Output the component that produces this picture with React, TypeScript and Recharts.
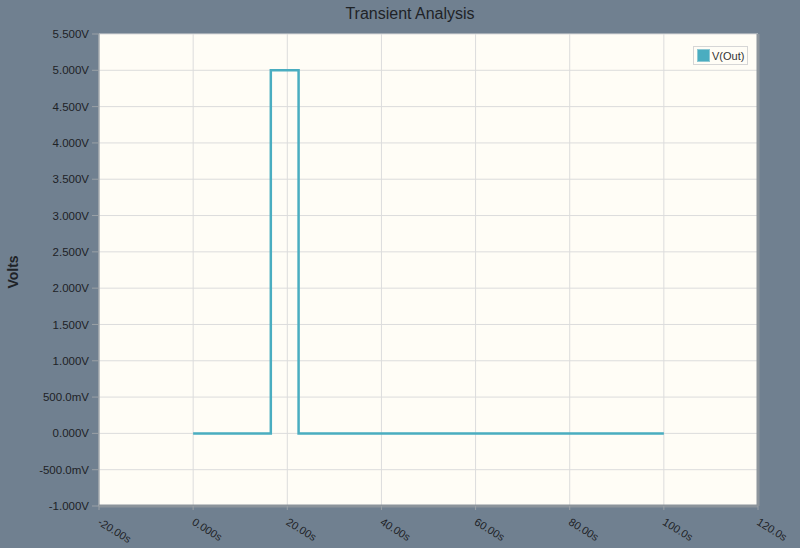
import React from "react";
import { LineChart, Line, XAxis, YAxis, CartesianGrid, ReferenceLine } from "recharts";

const timeValues = [0, 16.5, 16.5, 22.4, 22.4, 100];
const voltValues = [0, 0, 5, 5, 0, 0];
const xTicks = [-20, 0, 20, 40, 60, 80, 100, 120];
const xTickLabels = ["-20.00s", "0.000s", "20.00s", "40.00s", "60.00s", "80.00s", "100.0s", "120.0s"];
const yTicks = [-1, -0.5, 0, 0.5, 1, 1.5, 2, 2.5, 3, 3.5, 4, 4.5, 5, 5.5];
const yTickLabels = ["-1.000V", "-500.0mV", "0.000V", "500.0mV", "1.000V", "1.500V", "2.000V", "2.500V", "3.000V", "3.500V", "4.000V", "4.500V", "5.000V", "5.500V"];
const seriesName = "V(Out)";

const data = timeValues.map((t, i) => ({ t, v: voltValues[i] }));

const FONT = "'Liberation Sans', Arial, sans-serif";
const LINE_COLOR = "#4aadc0";

const XTick = (props: any) => {
  const { x, y, payload } = props;
  const idx = xTicks.indexOf(payload.value);
  const label = idx >= 0 ? xTickLabels[idx] : String(payload.value);
  return (
    <text
      x={x - 2}
      y={y + 12}
      transform={`rotate(32, ${x - 2}, ${y + 12})`}
      textAnchor="start"
      fontSize={11}
      fill="#1e2226"
      fontFamily={FONT}
    >
      {label}
    </text>
  );
};

const yFmt = (v: number) => {
  const idx = yTicks.findIndex((t) => Math.abs(t - v) < 1e-9);
  return idx >= 0 ? yTickLabels[idx] : String(v);
};

export default function App() {
  return (
    <div
      style={{
        position: "absolute",
        left: 0,
        top: 0,
        width: 800,
        height: 548,
        background: "#708090",
        overflow: "hidden",
      }}
    >
      <div
        style={{
          position: "absolute",
          top: 5,
          left: 0,
          width: 820,
          textAlign: "center",
          fontFamily: FONT,
          fontSize: 16,
          color: "#1f2327",
        }}
      >
        Transient Analysis
      </div>
      <div
        style={{
          position: "absolute",
          left: -7,
          top: 264,
          width: 40,
          textAlign: "center",
          transform: "rotate(-90deg)",
          fontFamily: FONT,
          fontSize: 14,
          fontWeight: "bold",
          color: "#1f2327",
        }}
      >
        Volts
      </div>
      <LineChart
        width={800}
        height={548}
        data={data}
        margin={{ top: 34, right: 42, bottom: 0, left: 0 }}
      >
        <CartesianGrid stroke="#dcdcdc" fill="#fffdf6" strokeWidth={1} />
        <XAxis
          dataKey="t"
          type="number"
          domain={[-20, 120]}
          ticks={xTicks}
          interval={0}
          height={42}
          tick={<XTick />}
          tickLine={{ stroke: "#9aa0a6" }}
          tickSize={4}
          axisLine={{ stroke: "#8c949b", strokeWidth: 3 }}
        />
        <YAxis
          type="number"
          domain={[-1, 5.5]}
          ticks={yTicks}
          interval={0}
          width={99}
          tickFormatter={yFmt}
          tick={{ fontSize: 11.5, fill: "#1e2226", fontFamily: FONT }}
          tickLine={{ stroke: "#9aa0a6" }}
          tickSize={7}
          tickMargin={3}
          axisLine={{ stroke: "#8c949b", strokeWidth: 1 }}
        />
        <ReferenceLine x={120} stroke="#8c949b" strokeWidth={3} />
        <Line
          type="linear"
          dataKey="v"
          name={seriesName}
          stroke={LINE_COLOR}
          strokeWidth={2.5}
          dot={false}
          isAnimationActive={false}
        />
      </LineChart>
      <div
        style={{
          position: "absolute",
          left: 693,
          top: 46,
          display: "flex",
          alignItems: "center",
          background: "#fffdf6",
          border: "1px solid #d6d6d6",
          padding: "2px 3px",
          fontFamily: FONT,
          fontSize: 11,
          color: "#333",
        }}
      >
        <span
          style={{
            display: "inline-block",
            width: 11,
            height: 11,
            background: LINE_COLOR,
            border: "1px solid #8fc9d4",
            marginRight: 2,
          }}
        />
        {seriesName}
      </div>
    </div>
  );
}
